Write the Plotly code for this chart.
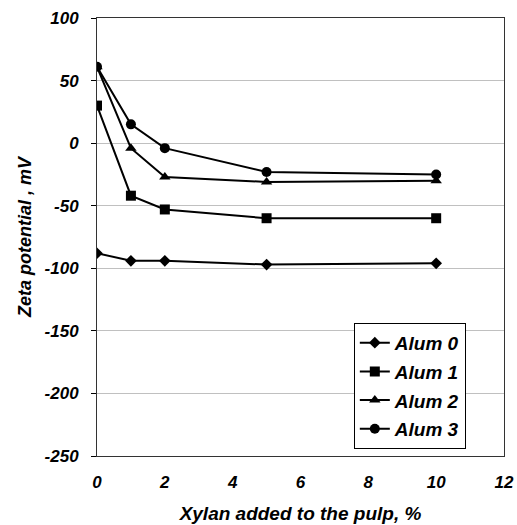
import plotly.graph_objects as go

xylan = [0, 1, 2, 5, 10]
alum0 = [-88, -94, -94, -97, -96]
alum1 = [30, -42, -53, -60, -60]
alum2 = [61, -4, -27, -31, -30]
alum3 = [61, 15, -4, -23, -25]
names = ["Alum 0", "Alum 1", "Alum 2", "Alum 3"]
series = [alum0, alum1, alum2, alum3]
symbols = ["diamond", "square", "triangle-up", "circle"]
sizes = [9, 10, 10, 10]
y_ticks = [-250, -200, -150, -100, -50, 0, 50, 100]
x_ticks = [0, 2, 4, 6, 8, 10, 12]

FONT = "Liberation Sans, Arial, sans-serif"
BI = dict(family=FONT, weight="bold", style="italic", color="black")

fig = go.Figure()
for n, s, sym, sz in zip(names, series, symbols, sizes):
    fig.add_trace(go.Scatter(
        x=xylan, y=s, name=n, mode="lines+markers", legendgroup=n,
        line=dict(color="black", width=2),
        marker=dict(symbol=sym, size=sz, color="black"),
    ))

fig.update_layout(
    width=517, height=525,
    margin=dict(l=97, r=13, t=18, b=69),
    paper_bgcolor="white", plot_bgcolor="white",
    font=dict(family=FONT, color="black"),
    showlegend=True,
    legend=dict(
        x=0.631, y=0.304, xanchor="left", yanchor="top",
        bordercolor="black", borderwidth=1, bgcolor="white",
        font=dict(size=19, **BI),
        tracegroupgap=1, itemwidth=30,
    ),
    xaxis=dict(
        range=[0, 12], tickvals=x_ticks, ticktext=[str(v) for v in x_ticks],
        showgrid=False, zeroline=False, automargin=False,
        showline=True, linecolor="#333333", linewidth=1, mirror=True,
        ticks="", tickfont=dict(size=17, **BI), ticklabelstandoff=11,
        title=dict(text="Xylan added to the pulp, %", standoff=15,
                   font=dict(size=19, **BI)),
    ),
    yaxis=dict(
        range=[-250, 100], tickvals=y_ticks, ticktext=[str(v) for v in y_ticks],
        showgrid=True, gridcolor="#c0c0c0", gridwidth=1, zeroline=False,
        automargin=False,
        showline=True, linecolor="#333333", linewidth=1, mirror=True,
        ticks="outside", ticklen=5, tickcolor="black",
        tickfont=dict(size=17, **BI), ticklabelstandoff=9,
        title=dict(text="Zeta potential , mV", standoff=8,
                   font=dict(size=18, **BI)),
    ),
)

fig.write_html(
    "out.html",
    config={"displayModeBar": False},
    post_script="document.body.style.margin='0';document.body.style.overflow='hidden';",
)
